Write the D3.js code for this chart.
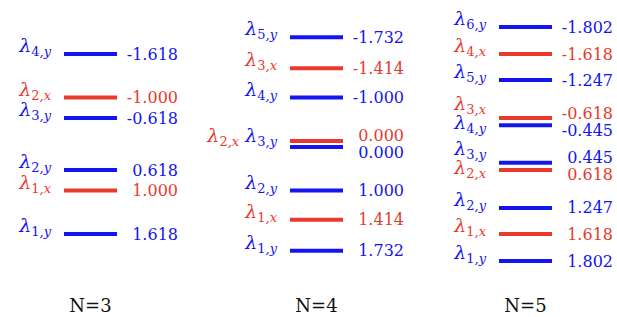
<!DOCTYPE html>
<html>
<head>
<meta charset="utf-8">
<script src="https://cdn.jsdelivr.net/npm/d3@7"></script>
<style>
  body { margin: 0; background: #fff; }
  text { font-family: 'DejaVu Serif', serif; }
</style>
</head>
<body>
<svg id="drawing_region"></svg>
<script>
// chain length N for each column
const columns = [3, 4, 5];

// level names (subscript) and eigenvalues, top to bottom
const n3_names  = ['4,y', '2,x', '3,y', '2,y', '1,x', '1,y'];
const n3_values = [-1.618, -1.000, -0.618, 0.618, 1.000, 1.618];

const n4_names  = ['5,y', '3,x', '4,y', '2,x', '3,y', '2,y', '1,x', '1,y'];
const n4_values = [-1.732, -1.414, -1.000, 0.000, 0.000, 1.000, 1.414, 1.732];

const n5_names  = ['6,y', '4,x', '5,y', '3,x', '4,y', '3,y', '2,x', '2,y', '1,x', '1,y'];
const n5_values = [-1.802, -1.618, -1.247, -0.618, -0.445, 0.445, 0.618, 1.247, 1.618, 1.802];

const level_sets = {
    3: { names: n3_names, values: n3_values },
    4: { names: n4_names, values: n4_values },
    5: { names: n5_names, values: n5_values }
};

const config = { width: 617, height: 317, center: 144, line_len: 53, line_w: 4 };
const color = { x: '#e8392c', y: '#1414ee' };

const svg = d3.select('#drawing_region')
    .attr('width', config.width)
    .attr('height', config.height);

// schematic (non-linear) energy axis, shared by all columns
const knot_v = [0, 0.618, 1, 1.618, 1.802];
const knot_d = [0, 26, 46.5, 90, 117];
const yscale = d3.scaleLinear()
    .domain([...knot_v.slice(1).reverse().map(v => -v), ...knot_v])
    .range([...knot_d.slice(1).reverse().map(d => config.center - d), ...knot_d.map(d => config.center + d)]);

const xline = d3.scaleOrdinal().domain(columns).range([64, 290, 499]);

function spread(items, gap) {
    items.sort((a, b) => a.y - b.y);
    for (let k = 0; k < 60; k++) {
        for (let i = 1; i < items.length; i++) {
            const d = items[i].y - items[i - 1].y;
            if (d < gap) {
                const s = (gap - d) / 2;
                items[i].y += s;
                items[i - 1].y -= s;
            }
        }
    }
}

columns.forEach(N => {
    const set = level_sets[N];
    const levels = set.names.map((name, i) => ({
        num: name.split(',')[0],
        axis: name.split(',')[1],
        value: set.values[i]
    }));

    // degenerate levels get drawn as a split pair
    const groups = Array.from(d3.group(levels, d => d.value), ([value, members]) => ({ value, members }));
    groups.forEach(g => {
        g.members.forEach((m, i) => { m.y = yscale(g.value) + (i - (g.members.length - 1) / 2) * 6; });
    });

    const col = svg.append('g');
    const x0 = xline(N);

    col.selectAll('line')
        .data(levels)
        .join('line')
        .attr('x1', x0)
        .attr('x2', x0 + config.line_len)
        .attr('y1', d => d.y)
        .attr('y2', d => d.y)
        .attr('stroke', d => color[d.axis])
        .attr('stroke-width', config.line_w);

    // values to the right
    const vals = levels.map(d => ({ d, y: d.y }));
    spread(vals, 17);
    col.selectAll('text.val')
        .data(vals)
        .join('text')
        .attr('class', 'val')
        .attr('x', x0 + config.line_len + 61)
        .attr('y', v => v.y + 5.5)
        .attr('text-anchor', 'end')
        .style('font-size', '16px')
        .attr('fill', v => color[v.d.axis])
        .text(v => v.d.value.toFixed(3));

    // lambda labels to the left
    const labs = groups.map(g => ({ g, y: yscale(g.value) - 2 }));
    spread(labs, 19);
    const lab = col.selectAll('text.lab')
        .data(labs)
        .join('text')
        .attr('class', 'lab')
        .attr('x', x0 - 13)
        .attr('y', l => l.y)
        .attr('text-anchor', 'end');

    lab.each(function (l) {
        const t = d3.select(this);
        l.g.members.forEach((m, i) => {
            const c = color[m.axis];
            t.append('tspan').attr('fill', c).attr('dy', i > 0 ? -4 : 0)
                .style('font-size', '19px').style('font-style', 'italic')
                .text((i > 0 ? ' ' : '') + 'λ');
            t.append('tspan').attr('fill', c).attr('dy', 4)
                .style('font-size', '13px')
                .text(m.num);
            t.append('tspan').attr('fill', c)
                .style('font-size', '13px').style('font-style', 'italic')
                .text(',' + m.axis);
        });
    });

    svg.append('text')
        .attr('x', x0 + config.line_len / 2)
        .attr('y', 312)
        .attr('text-anchor', 'middle')
        .style('font-size', '18px')
        .attr('fill', '#111')
        .text('N=' + N);
});
</script>
</body>
</html>
